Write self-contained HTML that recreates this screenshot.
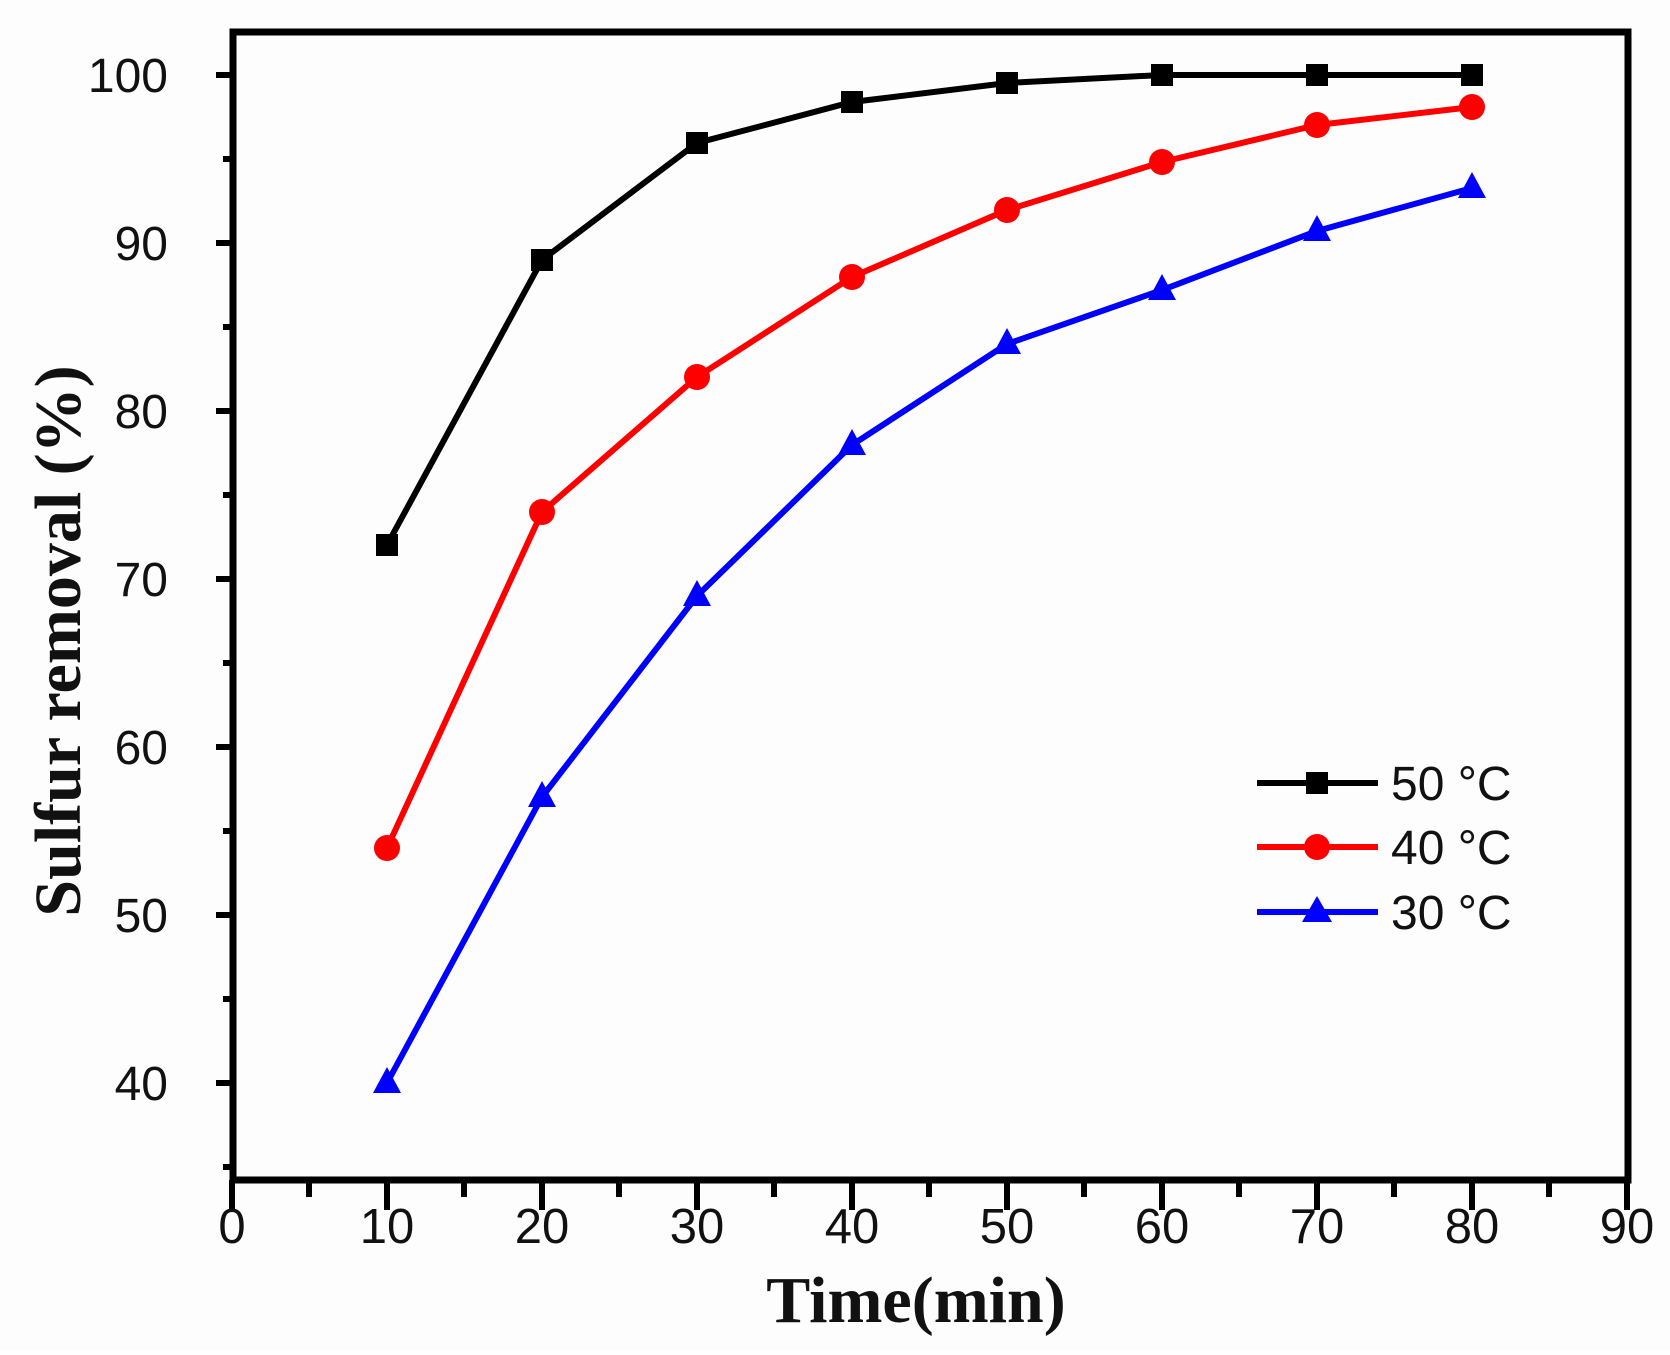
<!DOCTYPE html>
<html><head><meta charset="utf-8"><style>html,body{margin:0;padding:0;background:#fff}</style></head>
<body>
<svg width="1670" height="1350" viewBox="0 0 1670 1350" xmlns="http://www.w3.org/2000/svg">
<rect width="1670" height="1350" fill="#fdfdfd"/>
<rect x="233" y="32" width="1395" height="1148" fill="none" stroke="#000" stroke-width="7"/>
<g stroke="#000" stroke-width="6">
<line x1="216" y1="75" x2="233" y2="75"/><line x1="216" y1="243" x2="233" y2="243"/>
<line x1="216" y1="411" x2="233" y2="411"/><line x1="216" y1="579" x2="233" y2="579"/>
<line x1="216" y1="747" x2="233" y2="747"/><line x1="216" y1="915" x2="233" y2="915"/>
<line x1="216" y1="1083" x2="233" y2="1083"/>
<line x1="223" y1="159" x2="233" y2="159"/><line x1="223" y1="327" x2="233" y2="327"/>
<line x1="223" y1="495" x2="233" y2="495"/><line x1="223" y1="663" x2="233" y2="663"/>
<line x1="223" y1="831" x2="233" y2="831"/><line x1="223" y1="999" x2="233" y2="999"/>
<line x1="223" y1="1167" x2="233" y2="1167"/>
<line x1="232" y1="1180" x2="232" y2="1210"/><line x1="387" y1="1180" x2="387" y2="1210"/>
<line x1="542" y1="1180" x2="542" y2="1210"/><line x1="697" y1="1180" x2="697" y2="1210"/>
<line x1="852" y1="1180" x2="852" y2="1210"/><line x1="1007" y1="1180" x2="1007" y2="1210"/>
<line x1="1162" y1="1180" x2="1162" y2="1210"/><line x1="1317" y1="1180" x2="1317" y2="1210"/>
<line x1="1472" y1="1180" x2="1472" y2="1210"/><line x1="1627" y1="1180" x2="1627" y2="1210"/>
<line x1="309" y1="1180" x2="309" y2="1197"/><line x1="464" y1="1180" x2="464" y2="1197"/>
<line x1="619" y1="1180" x2="619" y2="1197"/><line x1="774" y1="1180" x2="774" y2="1197"/>
<line x1="929" y1="1180" x2="929" y2="1197"/><line x1="1084" y1="1180" x2="1084" y2="1197"/>
<line x1="1239" y1="1180" x2="1239" y2="1197"/><line x1="1394" y1="1180" x2="1394" y2="1197"/>
<line x1="1549" y1="1180" x2="1549" y2="1197"/>
</g>
<g font-family="Liberation Sans, sans-serif" font-size="48" fill="#111" text-anchor="end">
<text x="168" y="92">100</text><text x="168" y="260">90</text><text x="168" y="428">80</text>
<text x="168" y="596">70</text><text x="168" y="764">60</text><text x="168" y="932">50</text>
<text x="168" y="1100">40</text>
</g>
<g font-family="Liberation Sans, sans-serif" font-size="49" fill="#111" text-anchor="middle">
<text x="232" y="1243">0</text><text x="387" y="1243">10</text><text x="542" y="1243">20</text>
<text x="697" y="1243">30</text><text x="852" y="1243">40</text><text x="1007" y="1243">50</text>
<text x="1162" y="1243">60</text><text x="1317" y="1243">70</text><text x="1472" y="1243">80</text>
<text x="1627" y="1243">90</text>
</g>
<text x="916" y="1322" font-family="Liberation Serif, serif" font-weight="bold" font-size="66" text-anchor="middle" fill="#111">Time(min)</text>
<text transform="translate(80,641) rotate(-90)" font-family="Liberation Serif, serif" font-weight="bold" font-size="66" text-anchor="middle" fill="#111">Sulfur removal (%)</text>
<polyline fill="none" stroke="#000" stroke-width="6" points="387,545 542,260 697,143 852,102 1007,83 1162,75 1317,75 1472,75"/>
<g fill="#000">
<rect x="376" y="534" width="22" height="22"/><rect x="531" y="249" width="22" height="22"/>
<rect x="686" y="132" width="22" height="22"/><rect x="841" y="91" width="22" height="22"/>
<rect x="996" y="72" width="22" height="22"/><rect x="1151" y="64" width="22" height="22"/>
<rect x="1306" y="64" width="22" height="22"/><rect x="1461" y="64" width="22" height="22"/>
</g>
<polyline fill="none" stroke="#f00" stroke-width="6" points="387,848 542,512 697,377 852,277 1007,210 1162,162 1317,125 1472,107"/>
<g fill="#f00">
<circle cx="387" cy="848" r="13"/><circle cx="542" cy="512" r="13"/><circle cx="697" cy="377" r="13"/>
<circle cx="852" cy="277" r="13"/><circle cx="1007" cy="210" r="13"/><circle cx="1162" cy="162" r="13"/>
<circle cx="1317" cy="125" r="13"/><circle cx="1472" cy="107" r="13"/>
</g>
<polyline fill="none" stroke="#00f" stroke-width="6" points="387,1083 542,797 697,596 852,445 1007,344 1162,290 1317,231 1472,188"/>
<g fill="#00f">
<polygon points="387,1067 373,1093 401,1093"/><polygon points="542,781 528,807 556,807"/>
<polygon points="697,580 683,606 711,606"/><polygon points="852,429 838,455 866,455"/>
<polygon points="1007,328 993,354 1021,354"/><polygon points="1162,274 1148,300 1176,300"/>
<polygon points="1317,215 1303,241 1331,241"/><polygon points="1472,172 1458,198 1486,198"/>
</g>
<line x1="1257" y1="783" x2="1378" y2="783" stroke="#000" stroke-width="6"/>
<rect x="1306" y="772" width="22" height="22" fill="#000"/>
<line x1="1257" y1="847" x2="1378" y2="847" stroke="#f00" stroke-width="6"/>
<circle cx="1317" cy="847" r="13" fill="#f00"/>
<line x1="1257" y1="912" x2="1378" y2="912" stroke="#00f" stroke-width="6"/>
<polygon points="1317,896 1302,922 1332,922" fill="#00f"/>
<g font-family="Liberation Sans, sans-serif" font-size="48" fill="#111">
<text x="1391" y="800">50 °C</text><text x="1391" y="864">40 °C</text><text x="1391" y="929">30 °C</text>
</g>
</svg>
</body></html>
